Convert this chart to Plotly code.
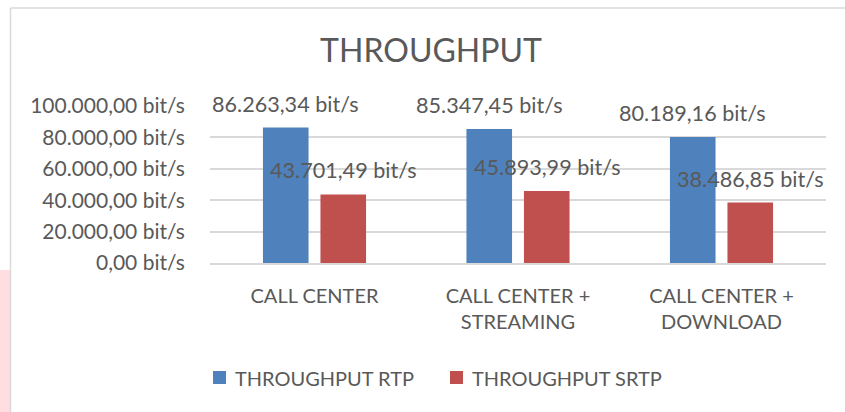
import plotly.graph_objects as go

categories = ["CALL CENTER", "CALL CENTER +<br>STREAMING", "CALL CENTER +<br>DOWNLOAD"]
series_names = ["THROUGHPUT RTP", "THROUGHPUT SRTP"]
rtp_values = [86263.34, 85347.45, 80189.16]
srtp_values = [43701.49, 45893.99, 38486.85]
y_ticks = [0, 20000, 40000, 60000, 80000, 100000]
title_text = "THROUGHPUT"

W, H = 845, 412
L, R, T, B = 210, 826, 106, 263   # plot area in pixels


def px_x(p):
    return (p - L) / (R - L)


def px_y(p):
    return (B - p) / (B - T)


def fmt(v):
    s = f"{v:,.2f}"
    return s.replace(",", "X").replace(".", ",").replace("X", ".") + " bit/s"


TXT = "#595959"
FONT = "Lato"
BLUE = "#4f81bd"
RED = "#c0504d"
COLORS = [BLUE, RED]

fig = go.Figure()
fig.add_trace(go.Bar(x=categories, y=rtp_values, name=series_names[0],
                     marker=dict(color=BLUE, line=dict(width=0))))
fig.add_trace(go.Bar(x=categories, y=srtp_values, name=series_names[1],
                     marker=dict(color=RED, line=dict(width=0))))

annotations = []
for vals, dx in ((rtp_values, -29), (srtp_values, 29)):
    for c, v in zip(categories, vals):
        annotations.append(dict(x=c, y=v, xref="x", yref="y", text=fmt(v),
                                showarrow=False, xshift=dx, yshift=24,
                                yanchor="middle", xanchor="center",
                                font=dict(family=FONT, size=21.6, color=TXT)))

shapes = [
    # pink strip at left
    dict(type="rect", xref="paper", yref="paper", x0=px_x(0), x1=px_x(10),
         y0=px_y(270), y1=px_y(412), fillcolor="#ffdde0", line=dict(width=0), layer="below"),
    # chart border left
    dict(type="line", xref="paper", yref="paper", x0=px_x(10.5), x1=px_x(10.5),
         y0=px_y(8), y1=px_y(412), line=dict(color="#d9d9d9", width=1.5)),
    # chart border top
    dict(type="line", xref="paper", yref="paper", x0=px_x(10.5), x1=px_x(845),
         y0=px_y(8), y1=px_y(8), line=dict(color="#d9d9d9", width=1.5)),
]

# custom legend (square + name)
legend_sq_x = [213, 450]
legend_txt_x = [233, 470]
for name, col, sx, tx in zip(series_names, COLORS, legend_sq_x, legend_txt_x):
    shapes.append(dict(type="rect", xref="paper", yref="paper",
                       x0=px_x(sx), x1=px_x(sx + 13), y0=px_y(371), y1=px_y(384),
                       fillcolor=col, line=dict(width=0)))
    annotations.append(dict(x=px_x(tx), y=px_y(378), xref="paper", yref="paper",
                            text=name, showarrow=False, xanchor="left", yanchor="middle",
                            font=dict(family=FONT, size=20, color=TXT)))

fig.update_layout(
    width=W, height=H,
    margin=dict(l=L, r=W - R, t=T, b=H - B),
    paper_bgcolor="white", plot_bgcolor="white",
    separators=",.",
    showlegend=False,
    barmode="group", bargap=0.435, bargroupgap=0.207,
    title=dict(text=title_text, xref="container", x=431 / W, xanchor="center",
               yref="container", y=1 - 51 / H, yanchor="middle",
               font=dict(family=FONT, size=32, color=TXT)),
    annotations=annotations,
    shapes=shapes,
    font=dict(family=FONT, color=TXT),
)
fig.update_yaxes(range=[0, 100000], tickmode="array", tickvals=y_ticks,
                 ticktext=[fmt(v) for v in y_ticks],
                 showgrid=True, gridcolor="#d9d9d9", gridwidth=1.5,
                 zeroline=False, showline=False,
                 ticks="outside", ticklen=20, tickcolor="rgba(0,0,0,0)",
                 tickfont=dict(family=FONT, size=21, color=TXT))
fig.update_xaxes(showline=True, linecolor="#d9d9d9", linewidth=1.5,
                 ticks="outside", ticklen=14, tickcolor="rgba(0,0,0,0)",
                 tickfont=dict(family=FONT, size=20, color=TXT))

fig.write_html("out.html", config={"displayModeBar": False},
               post_script="document.body.style.margin='0';")
